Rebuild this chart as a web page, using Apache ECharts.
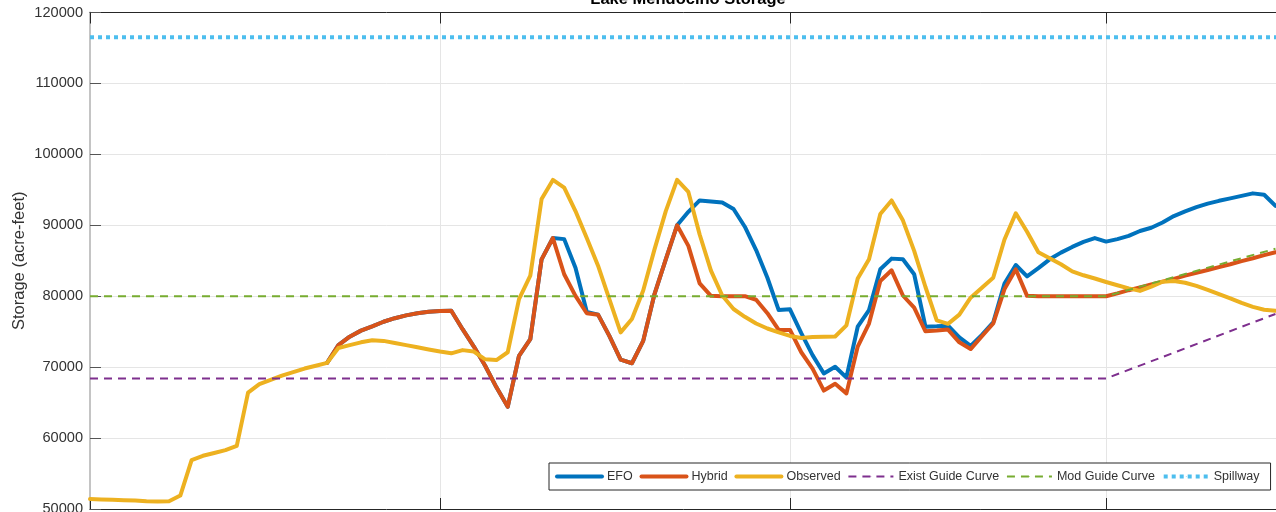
<!DOCTYPE html>
<html>
<head>
<meta charset="utf-8">
<script src="https://cdn.jsdelivr.net/npm/echarts@6/dist/echarts.min.js"></script>
<style>
  html, body { margin: 0; padding: 0; background: #fff; }
  #chart { width: 1276px; height: 512px; }
</style>
</head>
<body>
<div id="chart"></div>
<script>
// Daily storage, Lake Mendocino, starting 1 December
const monthNames = ['Dec', 'Jan', 'Feb', 'Mar'];
const monthDaysShown = [31, 31, 28, 17];

// Observed storage (acre-feet), one value per day from Dec 1
const observed = [
  51400, 51350, 51300, 51250, 51200, 51100, 51050, 51100, 51900, 56900,
  57500, 57900, 58300, 58900, 66400, 67600, 68200, 68800, 69300, 69800,
  70200, 70600, 72700, 73100, 73500, 73800, 73700, 73400, 73100, 72800,
  72500, 72200, 71950, 72400, 72200, 71100, 71000, 72100, 79600, 82900,
  93700, 96400, 95300, 92000, 88200, 84300, 79600, 74900, 76800, 80800,
  86600, 92000, 96400, 94700, 88700, 83600, 80100, 78200, 77100, 76150,
  75450, 74900, 74400, 74100, 74250, 74270, 74320, 75900, 82500, 85200,
  91600, 93500, 90700, 86400, 81300, 76600, 76100, 77400, 79800, 81200,
  82600, 88000, 91700, 89100, 86200, 85350, 84500, 83500, 82950, 82500,
  82000, 81550, 81100, 80750, 81350, 82050, 82150, 81900, 81450, 80900,
  80300, 79700, 79050, 78500, 78100, 77950
];

// Simulated runs begin on day 21 (Dec 22)
const simStartDay = 21;

const efo = [
  70600, 73100, 74300, 75150, 75750, 76400, 76900, 77300, 77600, 77800,
  77900, 77950, 75350, 72900, 70200, 67150, 64400, 71600, 73950, 85200,
  88200, 88050, 84000, 77800, 77400, 74400, 71050, 70550, 73700, 80300,
  85200, 90000, 91900, 93500, 93350, 93200, 92300, 89800, 86500, 82600,
  78050, 78150, 74800, 71700, 69100, 70050, 68550, 75700, 78050, 83800,
  85300, 85200, 83100, 75700, 75750, 75850, 74200, 73000, 74550, 76300,
  81800, 84400, 82800, 83950, 85200, 86150, 86950, 87650, 88200, 87700,
  88050, 88500, 89200, 89650, 90400, 91300, 91950, 92550, 93050, 93450,
  93800, 94150, 94500, 94300, 92750
];

const hybrid = [
  70600, 73100, 74300, 75150, 75750, 76400, 76900, 77300, 77600, 77800,
  77900, 77950, 75350, 72900, 70200, 67150, 64400, 71600, 73950, 85200,
  88200, 83100, 80050, 77600, 77400, 74400, 71050, 70550, 73700, 80300,
  85200, 90000, 87100, 81800, 80050, 80000, 80000, 80000, 79500, 77600,
  75250, 75250, 72100, 69800, 66700, 67650, 66300, 72900, 76150, 82150,
  83650, 80100, 78400, 75050, 75150, 75300, 73500, 72550, 74350, 76150,
  81000, 83800, 80050, 80000, 80000, 80000, 80000, 80000, 80000, 80000,
  80400, 80850, 81250, 81650, 82050, 82450, 82900, 83300, 83700, 84100,
  84500, 84950, 85350, 85800, 86200
];

// Flood-control guide curves and spillway level: [day, acre-feet]
const existGuide = [['Dec 1', 68400], ['Mar 1', 68400], ['Mar 16', 77500]];
const modGuide = [['Dec 1', 80000], ['Mar 1', 80000], ['Mar 16', 86700]];
const spillway = [['Dec 1', 116500], ['Mar 17', 116500]];

const yTicks = { min: 50000, max: 120000, step: 10000 };

// Day categories and the month-start positions used for ticks / grid
const days = [];
const monthStart = new Set();
monthNames.forEach((m, k) => {
  for (let d = 1; d <= monthDaysShown[k]; d++) {
    if (d === 1) monthStart.add(days.length);
    days.push(m + ' ' + d);
  }
});
const padNull = (n) => new Array(n).fill(null);
const isMonthStart = (idx) => monthStart.has(idx);

const FONT = '"Liberation Sans", Arial, Helvetica, sans-serif';
const AX = '#262626';
const TXT = '#333333';
const GRID = '#e5e5e5';

const COLORS = {
  efo: '#0072BD', hybrid: '#D95319', observed: '#EDB120',
  exist: '#7E2F8E', mod: '#77AC30', spill: '#4DBEEE'
};

const chart = echarts.init(document.getElementById('chart'), null, { renderer: 'canvas' });

const solid = (w, c) => ({ width: w, color: c, cap: 'round', join: 'round' });
const dashed = (c) => ({ width: 2, color: c, type: [8, 6], cap: 'butt' });
const dotted = (c) => ({ width: 4, color: c, type: [4, 4], cap: 'butt' });

chart.setOption({
  animation: false,
  backgroundColor: '#fff',
  textStyle: { fontFamily: FONT },
  graphic: [{
    type: 'text',
    x: 688, y: 8,
    style: {
      text: 'Lake Mendocino Storage',
      fill: '#000',
      font: 'bold 16.5px ' + FONT,
      align: 'center',
      verticalAlign: 'bottom'
    },
    z: 100
  }],
  grid: {
    left: 90, top: 12.5, width: (days.length - 1) * 11.29, height: 496.5,
    containLabel: false, outerBoundsMode: 'none'
  },
  legend: {
    left: 549, top: 463, width: 712,
    itemWidth: 45, itemHeight: 1, itemGap: 6.8,
    padding: [6, 11, 6, 6],
    backgroundColor: '#fff',
    borderColor: AX, borderWidth: 1, borderRadius: 0,
    textStyle: { fontSize: 12.5, color: TXT, fontFamily: FONT, lineHeight: 15 },
    data: [
      { name: 'EFO', lineStyle: solid(4, COLORS.efo) },
      { name: 'Hybrid', lineStyle: solid(4, COLORS.hybrid) },
      { name: 'Observed', lineStyle: solid(4, COLORS.observed) },
      { name: 'Exist Guide Curve', lineStyle: dashed(COLORS.exist) },
      { name: 'Mod Guide Curve', lineStyle: dashed(COLORS.mod) },
      { name: 'Spillway', lineStyle: dotted(COLORS.spill) }
    ]
  },
  xAxis: [{
    type: 'category', data: days, boundaryGap: false, position: 'bottom',
    axisLine: { show: true, lineStyle: { color: AX, width: 1 } },
    axisTick: { show: true, inside: true, length: 11, interval: isMonthStart, lineStyle: { color: AX } },
    axisLabel: { show: false },
    splitLine: { show: true, interval: isMonthStart, lineStyle: { color: GRID, width: 1 } }
  }, {
    type: 'category', data: days, boundaryGap: false, position: 'top',
    axisLine: { show: true, lineStyle: { color: AX, width: 1 } },
    axisTick: { show: true, inside: true, length: 11, interval: isMonthStart, lineStyle: { color: AX } },
    axisLabel: { show: false },
    splitLine: { show: false }
  }],
  yAxis: {
    type: 'value', min: yTicks.min, max: yTicks.max, interval: yTicks.step,
    name: 'Storage (acre-feet)', nameLocation: 'middle', nameGap: 62, nameMoveOverlap: false,
    nameTextStyle: { fontSize: 16.5, color: TXT, fontFamily: FONT },
    axisLine: { show: true, lineStyle: { color: '#c4c4c4', width: 2 } },
    axisTick: { show: true, inside: true, length: 11, lineStyle: { color: '#555' } },
    axisLabel: { fontSize: 14.6, color: TXT, margin: 7, fontFamily: FONT, formatter: (v) => String(v) },
    splitLine: { show: true, lineStyle: { color: GRID, width: 1 } }
  },
  series: [
    { name: 'EFO', type: 'line', symbol: 'none', data: padNull(simStartDay).concat(efo),
      lineStyle: solid(4, COLORS.efo), itemStyle: { color: COLORS.efo }, z: 2 },
    { name: 'Hybrid', type: 'line', symbol: 'none', data: padNull(simStartDay).concat(hybrid),
      lineStyle: solid(4, COLORS.hybrid), itemStyle: { color: COLORS.hybrid }, z: 3 },
    { name: 'Observed', type: 'line', symbol: 'none', data: observed,
      lineStyle: solid(4, COLORS.observed), itemStyle: { color: COLORS.observed }, z: 4 },
    { name: 'Exist Guide Curve', type: 'line', symbol: 'none', data: existGuide,
      lineStyle: dashed(COLORS.exist), itemStyle: { color: COLORS.exist }, z: 5 },
    { name: 'Mod Guide Curve', type: 'line', symbol: 'none', data: modGuide,
      lineStyle: dashed(COLORS.mod), itemStyle: { color: COLORS.mod }, z: 6 },
    { name: 'Spillway', type: 'line', symbol: 'none', data: spillway,
      lineStyle: dotted(COLORS.spill), itemStyle: { color: COLORS.spill }, z: 7 }
  ]
});
</script>
</body>
</html>
